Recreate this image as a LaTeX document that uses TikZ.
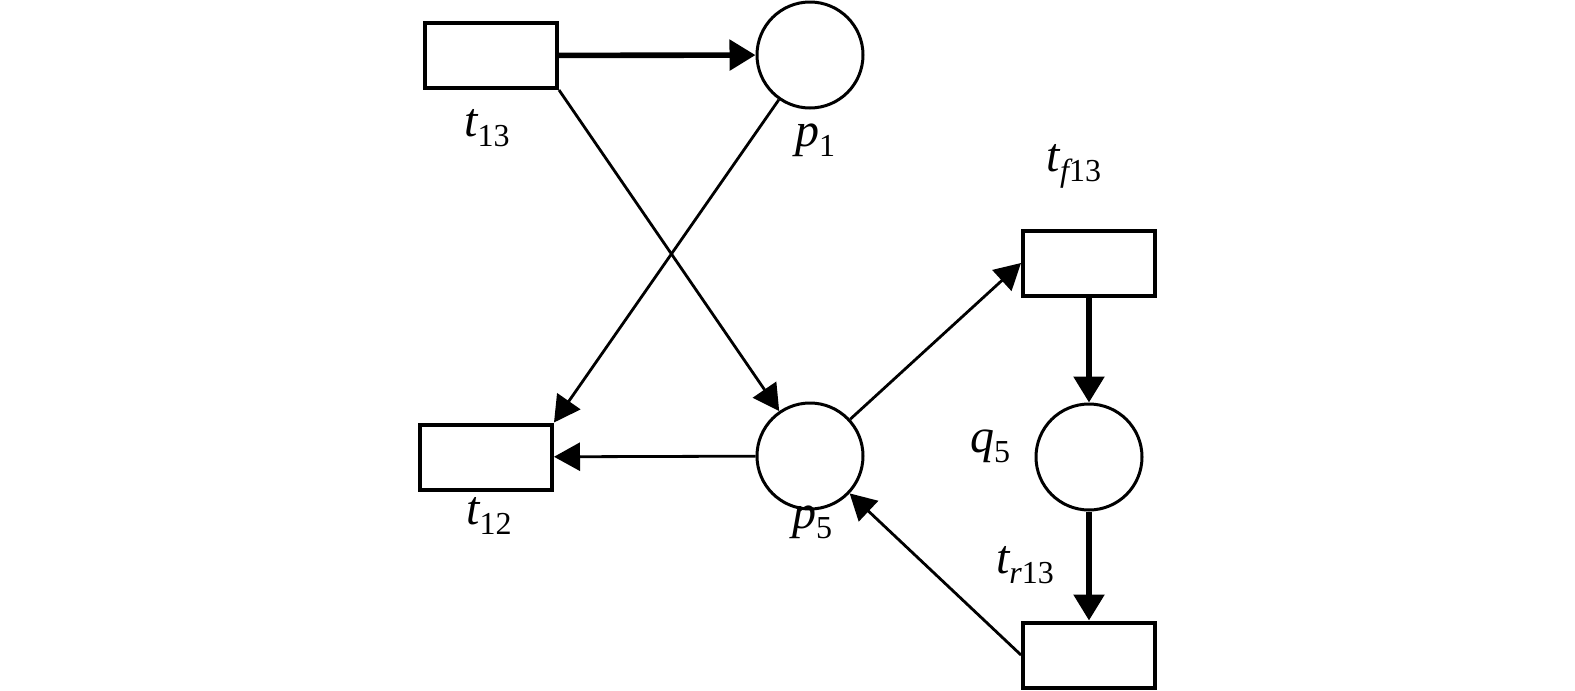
\documentclass[tikz,border=0pt]{standalone}
\usepackage{fontspec}
\setmainfont{Liberation Serif}
\usetikzlibrary{arrows.meta}
\newcommand{\lbl}[2]{{\fontsize{24}{27}\selectfont\itshape #1}\raisebox{-5pt}{\fontsize{16}{17}\selectfont #2}}
\newcommand{\lblf}[2]{{\fontsize{24}{27}\selectfont\itshape #1}\raisebox{-5pt}{\fontsize{16}{17}\selectfont\itshape #2\upshape 13}}
\tikzset{
  trans/.style={draw, line width=2pt, minimum width=66pt, minimum height=32.5pt, inner sep=0pt, fill=white},
  place/.style={draw, circle, line width=1.5pt, minimum size=53pt, inner sep=0pt},
  arc/.style={line width=1.4pt, -{Triangle[length=13pt,width=14pt]}},
  thickarc/.style={line width=2.8pt, -{Triangle[length=13pt,width=15pt]}},
  txt/.style={inner sep=0pt}
}
\begin{document}
\begin{tikzpicture}[x=0.5pt,y=-0.5pt]
\useasboundingbox (0,0) rectangle (1575,691);
\node[trans] (t13) at (491,55.5) {};
\node[place] (p1) at (810,55) {};
\node[trans] (t12) at (486,457) {};
\node[place] (p5) at (810,456) {};
\node[trans] (tf13) at (1089,263) {};
\node[place] (q5) at (1089,457) {};
\node[trans] (tr13) at (1089,655) {};

\node[txt] (lt13) at (487,128) {\lbl{t}{13}};
\node[txt] (lp1) at (815,140) {\lbl{p}{1}};
\node[txt] (lt12) at (489,516) {\lbl{t}{12}};
\node[txt] (lp5) at (812,522) {\lbl{p}{5}};
\node[txt] (ltf13) at (1074,166) {\lblf{t}{f}};
\node[txt] (lq5) at (990,446) {\lbl{q}{5}};
\node[txt] (ltr13) at (1025,565) {\lblf{t}{r}};

\draw[thickarc] (t13) -- (p1);
\draw[arc] (t13.south east) -- (p5);
\draw[arc] (p1) -- (t12.north east);
\draw[arc] (p5) -- (t12);
\draw[arc] (p5) -- (tf13.west);
\draw[thickarc] (tf13) -- (q5);
\draw[thickarc] (q5) -- (tr13);
\draw[arc] (tr13.west) -- (p5);
\end{tikzpicture}
\end{document}
